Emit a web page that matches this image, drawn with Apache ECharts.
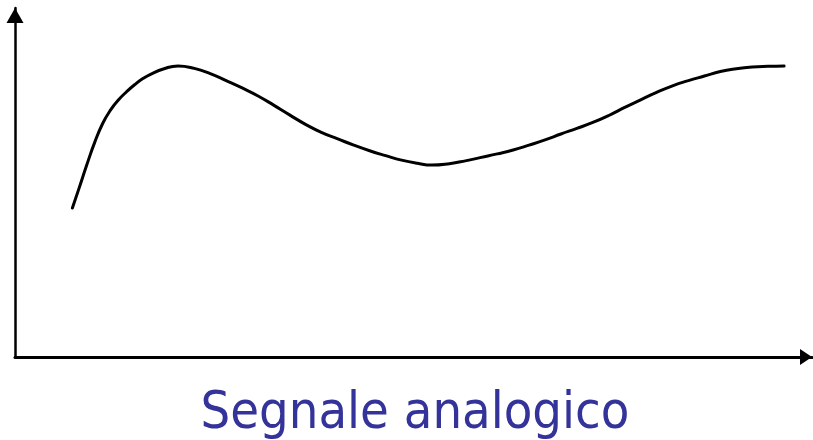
<!DOCTYPE html>
<html>
<head>
<meta charset="utf-8">
<title>Segnale analogico</title>
<script src="https://cdn.jsdelivr.net/npm/echarts@6/dist/echarts.min.js"></script>
<style>
  html, body { margin: 0; padding: 0; background: #ffffff; }
  #chart { width: 813px; height: 440px; }
</style>
</head>
<body>
<div id="chart"></div>
<script>
// Sampled analog signal: time (arbitrary units) and amplitude
const timeValues = [7.2, 8, 9, 10, 11, 12, 13, 14, 15, 16, 17, 18.7, 20.45, 22.5, 24.5, 26.5,
  28.5, 30.5, 32.5, 34.5, 36.5, 38.5, 40.5, 42.5, 44.5, 46.5, 48.5, 50.5, 52.3, 54.5, 56.5,
  58.5, 60.5, 62.5, 64.5, 66.5, 68.5, 70.5, 72.5, 74.5, 76.5, 78.5, 80.5, 82.5, 84.5, 86.5,
  88.5, 90.5, 92.5, 94.5, 96.5];
const amplitudeValues = [42.7, 48.1, 55.0, 61.5, 66.9, 70.8, 73.7, 76.0, 78.0, 79.7, 81.0,
  82.6, 83.4, 82.7, 81.2, 79.2, 77.1, 74.8, 72.1, 69.3, 66.6, 64.3, 62.5, 60.7, 59.1, 57.7,
  56.4, 55.5, 55.0, 55.4, 56.2, 57.2, 58.2, 59.3, 60.7, 62.2, 63.9, 65.5, 67.2, 69.2, 71.5,
  73.7, 75.8, 77.7, 79.2, 80.5, 81.8, 82.6, 83.1, 83.3, 83.4];
const captionText = 'Segnale analogico';

const signal = timeValues.map((t, i) => [t, amplitudeValues[i]]);

const chart = echarts.init(document.getElementById('chart'), null, { renderer: 'canvas' });

// Plain axes: a line with a solid triangular arrowhead, no ticks or labels
function arrowAxis(lineWidth, headAcross, headAlong) {
  return {
    type: 'value',
    min: 0,
    max: 100,
    axisLine: {
      show: true,
      symbol: ['none', 'triangle'],
      symbolSize: [headAcross, headAlong],
      symbolOffset: [0, -headAlong / 2],
      lineStyle: { color: '#000000', width: lineWidth }
    },
    axisTick: { show: false },
    axisLabel: { show: false },
    splitLine: { show: false }
  };
}

chart.setOption({
  animation: false,
  backgroundColor: '#ffffff',
  grid: { left: 15, right: 1, top: 8, bottom: 83, containLabel: false },
  xAxis: arrowAxis(3, 16, 12),
  yAxis: arrowAxis(2.5, 17, 15),
  series: [{
    type: 'line',
    data: signal,
    smooth: 0.5,
    showSymbol: false,
    lineStyle: { color: '#000000', width: 3, cap: 'round' }
  }],
  graphic: [{
    type: 'text',
    x: 415,
    y: 414,
    style: {
      text: captionText,
      fill: '#333399',
      font: '52px "DejaVu Sans Condensed", "DejaVu Sans", sans-serif',
      align: 'center',
      verticalAlign: 'middle'
    }
  }]
});
</script>
</body>
</html>
